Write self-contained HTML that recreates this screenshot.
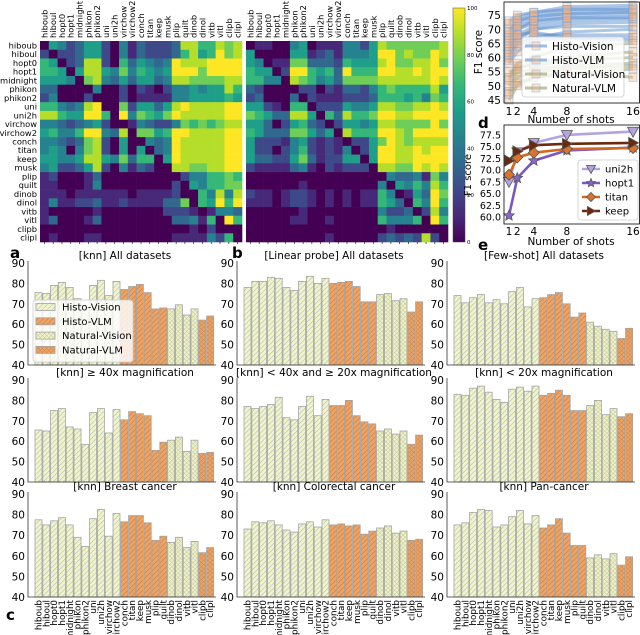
<!DOCTYPE html>
<html><head><meta charset="utf-8"><style>
html,body{margin:0;padding:0;background:#fff;}
svg{display:block;font-family:"DejaVu Sans","Liberation Sans",sans-serif;}
</style></head><body>
<svg id="fig" xmlns="http://www.w3.org/2000/svg" width="640" height="635" viewBox="0 0 640 635">
<defs>
<pattern id="pHV" width="3.5" height="3.5" patternUnits="userSpaceOnUse" patternTransform="rotate(45)"><rect width="3.5" height="3.5" fill="#f4f4c6"/><line x1="0" y1="0" x2="0" y2="3.5" stroke="#a4c0cc" stroke-width="1.2"/></pattern>
<pattern id="pHL" width="3.5" height="3.5" patternUnits="userSpaceOnUse" patternTransform="rotate(45)"><rect width="3.5" height="3.5" fill="#eea465"/><line x1="0" y1="0" x2="0" y2="3.5" stroke="#c77a40" stroke-width="1.2"/></pattern>
<pattern id="pNV" width="3" height="3" patternUnits="userSpaceOnUse" patternTransform="rotate(45)"><rect width="3" height="3" fill="#f2f2c8"/><line x1="0" y1="0" x2="0" y2="3" stroke="#b8c49a" stroke-width="0.9"/><line x1="0" y1="0" x2="3" y2="0" stroke="#b8c49a" stroke-width="0.9"/></pattern>
<pattern id="pNL" width="3" height="3" patternUnits="userSpaceOnUse" patternTransform="rotate(45)"><rect width="3" height="3" fill="#eea465"/><line x1="0" y1="0" x2="0" y2="3" stroke="#c4804a" stroke-width="0.9"/><line x1="0" y1="0" x2="3" y2="0" stroke="#c4804a" stroke-width="0.9"/></pattern>
<linearGradient id="viri" x1="0" y1="1" x2="0" y2="0">
<stop offset="0" stop-color="#440154"/><stop offset="0.11" stop-color="#482878"/><stop offset="0.22" stop-color="#3e4989"/><stop offset="0.33" stop-color="#31688e"/><stop offset="0.44" stop-color="#26828e"/><stop offset="0.56" stop-color="#1f9e89"/><stop offset="0.67" stop-color="#35b779"/><stop offset="0.78" stop-color="#6ece58"/><stop offset="0.89" stop-color="#b5de2b"/><stop offset="1" stop-color="#fde725"/>
</linearGradient>
</defs>
</svg>
<script>
const models=["hiboub","hiboul","hopt0","hopt1","midnight","phikon","phikon2","uni","uni2h","virchow","virchow2","conch","titan","keep","musk","plip","quilt","dinob","dinol","vitb","vitl","clipb","clipl"];
const modelTypes=["HV","HV","HV","HV","HV","HV","HV","HV","HV","HV","HV","HL","HL","HL","HL","HL","HL","NV","NV","NV","NV","NL","NL"];
const heatmapA=[
"05423552041322238866878","20223552041322236856978","65023882063543498889999","66505885474654599979999",
"55540784353553488777788","33000040020210244545586","24000200020111144555565","66434890072553589888899",
"88655996094765798888899","44323452001432247676788","56446994380775699888899","44323782050043498888899",
"45404782050503498888899","55445885473660598888899","45223582041320088778899","12000130000000002446676",
"11000140000000020546677","11101111110111120064848","14112231121111337065969","10000010000000222101443",
"13000130000000033416096","00000000000000000102000","01000110000000011114260"];
const heatmapB=[
"01100450111442587777778","50000551231444599787798","54011773332655589778897","65502996563966699889899",
"66440876453777788888898","32000022021332467666685","23000302111222366656476","55210660222544588778898",
"76533885063866799889999","55302563202554588777797","65333775350866699879999","52221452121022579878888",
"52202462121402599889899","53322573122550599889999","21111341021222088779898","00000000000000004334174",
"00000010000000040546486","21101221010101164015397","11101221010101165306496","00000010000000042230284",
"00000110010000064446096","00000000000000001000000","00000000010000023232820"];
const shots=[1,2,4,8,16];
const histoCurves=[[72,74,76,78,78.5],[70,73,75,77,77.5],[68,72,74,76,76.5],[69,73,74.5,75.5,76],[66,70,73,75,75.5],[64,70,72,74,74],[62,68,71,73,73.5],[60,66,70,72,72.5],[67,71,73,74,74.5],[63,67,70,71,71],[59,64,67,69,70],[61,65,68,68,68],[65,68,69,67,66],[73,75,76,77,77],[58,62,66,67,67]];
const naturalCurves=[[55,56,58,60,62],[52,57,57,59,60],[50,55,56,57,58],[48,53,55,56,57],[47,51,53,54,56],[45,50,53,55,53],[53,58,60,64,65]];
const uni2hF1=[67.5,73.8,75.8,77.5,78.2];
const hopt1F1=[60.3,68.3,72,74.2,74.8];
const titanF1=[69,72.7,73.7,74.5,74.7];
const keepF1=[72,74,75.3,75.6,75.8];
const knnAll=[75.5,75,79,80.5,78,72.5,68,79,81.5,74,81,77,78.5,79.5,75.5,67.5,68,67.5,69.5,64.5,67.5,62,64];
const lpAll=[78,81,81,83,82.5,78,76.5,81,83.5,80,82.5,80,80.5,81,78.5,71,71,74.5,75,71.5,72.5,66,71];
const fsAll=[74,70.5,73,74.5,70.5,72,70,76,78,68.5,72.5,73,74.5,75.5,70,63.5,65.5,61,59,57.5,56.5,53,58];
const knn40=[65.5,65,75,76,67,66,58.5,74,76,64,75.5,70.5,74.5,73.5,72.5,55.5,59.5,60.5,62,55,60.5,54,54.5];
const knn20to40=[77,76,77,78,81.5,71.5,70.5,77,82,72.5,80.5,77.5,77.5,80,72.5,69.5,68.5,65,66,63.5,65,58.5,63];
const knnLt20=[83,82.5,86,87,84,80.5,79,85.5,86.5,84.5,87,82.5,83.5,85,82.5,75,75,77.5,80,73,76,72,73.5];
const knnBreast=[77.5,75,77,78.5,75,69,64.5,78,82.5,69.5,80.5,76.5,79.5,79.5,76,67.5,69.5,66.5,69,64,67,61.5,64];
const knnCrc=[73,76.5,76,77,75,72.5,71.5,75.5,76.5,74,77.5,75,75.5,74.5,75,70.5,72,73.5,74.5,71,72,67.5,68];
const knnPan=[75,76,81,82.5,82,74,75,79,82,75.5,79.5,73.5,75,78,71,65,65,59,60.5,58.5,61,55.5,59.5];
const yTicks=[40,50,60,70,80,90];
const cbTicks=[0,20,40,60,80,100];
const dTicks=[45,50,55,60,65,70,75];
const eTicks=[60.0,62.5,65.0,67.5,70.0,72.5,75.0,77.5];

const NS="http://www.w3.org/2000/svg";
const svg=document.getElementById("fig");
function mk(tag,attrs,parent){const e=document.createElementNS(NS,tag);for(const k in attrs)e.setAttribute(k,attrs[k]);(parent||svg).appendChild(e);return e;}
function txt(s,attrs,parent){const e=mk("text",attrs,parent);e.textContent=s;return e;}
const viridis=["#440154","#482878","#3e4989","#31688e","#26828e","#1f9e89","#35b779","#6ece58","#b5de2b","#fde725"];

// ---------- Heatmaps ----------
function heatmap(data,x0,name,rowLabels){
  const g=mk("g",{});
  
  
  const cw=202/23,ch=201/23,y0=41;
  const hx=i=>x0+i*cw, hy=j=>y0+j*ch;
  data.forEach((row,j)=>{
    for(let i=0;i<23;i++){
      const v=+row[i];
      const r=mk("rect",{x:hx(i).toFixed(2),y:hy(j).toFixed(2),width:(cw+0.3).toFixed(2),height:(ch+0.3).toFixed(2),fill:viridis[v]},g);
      
      
    }
  });
  models.forEach((m,i)=>{
    const cx=hx(i)+cw/2;
    const t=txt(m,{x:0,y:0,transform:`translate(${(cx+3).toFixed(1)},38) rotate(-90)`,"font-size":"8.3",fill:"#000"},g);
    
    
    if(rowLabels){
      const t2=txt(m,{x:37,y:(hy(i)+ch/2+3).toFixed(1),"text-anchor":"end","font-size":"8.3",fill:"#000"},g);
      
      
    }
    const tk=mk("line",{x1:cx,x2:cx,y1:242,y2:244,stroke:"#000","stroke-width":0.6},g);
    
    
  });
}
heatmap(heatmapA,40,"heatmap-knn",true);
heatmap(heatmapB,246,"heatmap-linear",false);

// colorbar
const cb=mk("rect",{x:453,y:8,width:12,height:234,fill:"url(#viri)",stroke:"#444","stroke-width":0.5});


cbTicks.forEach(v=>{
  const y=242-v/100*234;
  const t=txt(String(v),{x:467,y:(y+2).toFixed(1),"font-size":"5.5",fill:"#000"});
  
  
});

// ---------- Panel d ----------
const dx=s=>509+(s-1)*8.27, dy=v=>100-(v-45)*2.83;
function frame(x1,y1,x2,y2,name){
  const r=mk("rect",{x:x1,y:y1,width:x2-x1,height:y2-y1,fill:"none",stroke:"#000","stroke-width":0.8});
  
  
}
function linePath(vals,xf,yf){return shots.map((s,i)=>(i?"L":"M")+xf(s).toFixed(1)+","+yf(vals[i]).toFixed(1)).join(" ");}
naturalCurves.forEach(c=>{
  const p=mk("path",{d:linePath(c,dx,dy),fill:"none",stroke:"#8d9c62","stroke-opacity":0.5,"stroke-width":3});
  
  
});
histoCurves.forEach(c=>{
  const p=mk("path",{d:linePath(c,dx,dy),fill:"none",stroke:"#5b8fd0","stroke-opacity":0.5,"stroke-width":3});
  
  
});
histoCurves.concat(naturalCurves).forEach(c=>{
  shots.forEach((s,i)=>{
    const m=mk("rect",{x:(dx(s)-4).toFixed(1),y:(dy(c[i])-4).toFixed(1),width:8,height:8,fill:"#f4b183","fill-opacity":0.35,stroke:"#6f9fd6","stroke-opacity":0.5,"stroke-width":0.8});
    
    
  });
});
frame(504,2,639.5,103,"panel-d-axes");
dTicks.forEach(v=>{
  const t=txt(String(v),{x:501,y:(dy(v)+4).toFixed(1),"text-anchor":"end","font-size":"10.5",fill:"#000"});
  
  
});
shots.forEach(s=>{
  const t=txt(String(s),{x:dx(s),y:115,"text-anchor":"middle","font-size":"11",fill:"#000"});
  
  
});
{
 const t=txt("F1 score",{x:0,y:0,transform:"translate(482,52) rotate(-90)","text-anchor":"middle","font-size":"10.5",fill:"#000"});
 
 
 const t2=txt("Number of shots",{x:571,y:123,"text-anchor":"middle","font-size":"10.5",fill:"#000"});
 
 
 const lg=mk("rect",{x:522,y:37,width:102,height:60,rx:3,fill:"#fff","fill-opacity":0.8,stroke:"#ccc","stroke-width":0.8});
 
 
 [["Histo-Vision","#5b8fd0"],["Histo-VLM","#5b8fd0"],["Natural-Vision","#8d9c62"],["Natural-VLM","#8d9c62"]].forEach((e,i)=>{
   const y=46+i*14;
   const l=mk("line",{x1:525,x2:547,y1:y,y2:y,stroke:e[1],"stroke-opacity":0.6,"stroke-width":3});
   
   
   const m=mk("rect",{x:532,y:y-4,width:8,height:8,fill:"#f4b183","fill-opacity":0.35,stroke:"#6f9fd6","stroke-opacity":0.5,"stroke-width":0.8});
   
   
   const t=txt(e[0],{x:552,y:y+4,"font-size":"10.5",fill:"#000"});
   
   
 });
}

// ---------- Panel e ----------
const ex=dx, ey=v=>217-(v-60)*4.69;
function marker(kind,x,y,fill,stroke,size){
  let el;
  if(kind==="tri"){el=mk("path",{d:`M${x-size},${y-size*0.8} L${x+size},${y-size*0.8} L${x},${y+size} Z`,fill,stroke,"stroke-width":0.8});}
  else if(kind==="star"){let d="";for(let k=0;k<10;k++){const a=-Math.PI/2+k*Math.PI/5;const r=k%2?size*0.45:size;d+=(k?"L":"M")+(x+r*Math.cos(a)).toFixed(1)+","+(y+r*Math.sin(a)).toFixed(1);}el=mk("path",{d:d+"Z",fill,stroke,"stroke-width":0.8});}
  else if(kind==="dia"){el=mk("path",{d:`M${x},${y-size} L${x+size},${y} L${x},${y+size} L${x-size},${y} Z`,fill,stroke,"stroke-width":0.8});}
  else {el=mk("path",{d:`M${x-size*0.8},${y-size} L${x+size},${y} L${x-size*0.8},${y+size} Z`,fill,stroke,"stroke-width":0.8});}
  return el;
}
const eSeries=[["uni2h",uni2hF1,"#b3a4e0","tri","#b3a4e0"],["hopt1",hopt1F1,"#7b57c2","star","#8a66cc"],["titan",titanF1,"#d2691e","dia","#d8742c"],["keep",keepF1,"#6b2a0e","play","#6b2a0e"]];
eSeries.forEach(s=>{
  const p=mk("path",{d:linePath(s[1],ex,ey),fill:"none",stroke:s[2],"stroke-width":2.6});
  
  
});
eSeries.forEach(s=>{
  shots.forEach((sh,i)=>{
    const m=marker(s[3],ex(sh),ey(s[1][i]),s[4],"#555",5.5);
    
    
  });
});
frame(504,125,639.5,224,"panel-e-axes");
eTicks.forEach(v=>{
  const t=txt(v.toFixed(1),{x:501,y:(ey(v)+3.5).toFixed(1),"text-anchor":"end","font-size":"9.5",fill:"#000"});
  
  
});
shots.forEach(s=>{
  const t=txt(String(s),{x:ex(s),y:235,"text-anchor":"middle","font-size":"10.5",fill:"#000"});
  
  
});
{
 const t=txt("F1 score",{x:0,y:0,transform:"translate(471,175) rotate(-90)","text-anchor":"middle","font-size":"10",fill:"#000"});
 
 
 const t2=txt("Number of shots",{x:571,y:245,"text-anchor":"middle","font-size":"10.5",fill:"#000"});
 
 
 const lg=mk("rect",{x:578,y:160,width:60,height:60,rx:3,fill:"#fff","fill-opacity":0.85,stroke:"#ccc","stroke-width":0.8});
 
 
 eSeries.forEach((s,i)=>{
   const y=169+i*14;
   const l=mk("line",{x1:582,x2:600,y1:y,y2:y,stroke:s[2],"stroke-width":2.6});
   
   
   const m=marker(s[3],591,y,s[4],"#555",4.5);
   
   
   const t=txt(s[0],{x:605,y:y+3.5,"font-size":"10",fill:"#000"});
   
   
 });
}

// ---------- Bar panels ----------
const patt={HV:"url(#pHV)",HL:"url(#pHL)",NV:"url(#pNV)",NL:"url(#pNL)"};
const rows=[{top:263,base:365},{top:380,base:482},{top:494,base:597}];
const cols=[28,237,447];
const panels=[
 ["[knn] All datasets",knnAll,0,0,"bars-knn-all"],
 ["[Linear probe] All datasets",lpAll,0,1,"bars-linear-all"],
 ["[Few-shot] All datasets",fsAll,0,2,"bars-fewshot-all"],
 ["[knn]  \u2265 40x magnification",knn40,1,0,"bars-knn-40x"],
 ["[knn]  < 40x and  \u2265 20x magnification",knn20to40,1,1,"bars-knn-20-40x"],
 ["[knn]  < 20x magnification",knnLt20,1,2,"bars-knn-lt20x"],
 ["[knn] Breast cancer",knnBreast,2,0,"bars-knn-breast"],
 ["[knn] Colorectal cancer",knnCrc,2,1,"bars-knn-colorectal"],
 ["[knn] Pan-cancer",knnPan,2,2,"bars-knn-pancancer"]];
panels.forEach(p=>{
  const r=rows[p[2]], x0=cols[p[3]];
  const k=(r.base-r.top)/50;
  const ys=v=>r.base-(v-40)*k;
  const xs=i=>x0+7+i*7.8;
  const g=mk("g",{});
  
  
  p[1].forEach((v,i)=>{
    const b=mk("rect",{x:xs(i).toFixed(1),y:ys(v).toFixed(1),width:7,height:(r.base-ys(v)).toFixed(1),fill:patt[modelTypes[i]],stroke:"#a3a3a3","stroke-width":0.8},g);
    
    
  });
  const ax=mk("path",{d:`M${x0},${r.top-2} L${x0},${r.base} L${x0+188},${r.base}`,fill:"none",stroke:"#333","stroke-width":0.8},g);
  
  
  yTicks.forEach(v=>{
    const t=txt(String(v),{x:x0-3,y:(ys(v)+4).toFixed(1),"text-anchor":"end","font-size":"10.5",fill:"#000"},g);
    
    
  });
  const tt=txt(p[0],{x:x0+97,y:r.top-4,"text-anchor":"middle","font-size":"10.5",fill:"#000"},g);
  
  
  if(p[2]===2){
    models.forEach((m,i)=>{
      const t=txt(m,{x:0,y:0,transform:`translate(${(xs(i)+6.6).toFixed(1)},${r.base+3}) rotate(-90)`,"text-anchor":"end","font-size":"8.8",fill:"#000"},g);
      
      
    });
  }
});
// legend in panel a
{
 const lg=mk("rect",{x:33,y:300,width:100,height:62,rx:3,fill:"#fff","fill-opacity":0.8,stroke:"#ccc","stroke-width":0.8});
 
 
 [["Histo-Vision","HV"],["Histo-VLM","HL"],["Natural-Vision","NV"],["Natural-VLM","NL"]].forEach((e,i)=>{
   const y=307+i*14.3;
   const pr=mk("rect",{x:36,y:y-3.5,width:19,height:7,fill:patt[e[1]],stroke:"#a3a3a3","stroke-width":0.8});
   
   
   const t=txt(e[0],{x:62,y:y+3.5,"font-size":"10",fill:"#000"});
   
   
 });
}
// panel letters
[["a",10,258],["b",232,258],["c",6,620],["d",478,128],["e",478,250]].forEach(l=>{
  const t=txt(l[0],{x:l[1],y:l[2],"font-size":"15","font-weight":"bold",fill:"#000"});
  
  
});
</script>
</body></html>
